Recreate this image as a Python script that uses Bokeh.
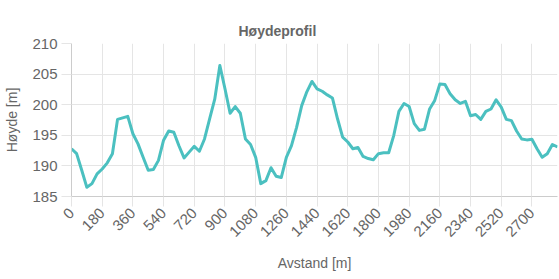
from bokeh.plotting import figure
from bokeh.models import Range1d, FixedTicker, Title
from bokeh.embed import file_html
from bokeh.resources import INLINE

# ---- data ----
distance = [0, 30, 60, 90, 120, 150, 180, 210, 240, 270, 300, 330, 360, 390, 420, 450,
            480, 510, 540, 570, 600, 630, 660, 690, 720, 750, 780, 810, 840, 870, 900, 930,
            960, 990, 1020, 1050, 1080, 1110, 1140, 1170, 1200, 1230, 1260, 1290, 1320, 1350,
            1380, 1410, 1440, 1470, 1500, 1530, 1560, 1590, 1620, 1650, 1680, 1710, 1740, 1770,
            1800, 1830, 1860, 1890, 1920, 1950, 1980, 2010, 2040, 2070, 2100, 2130, 2160, 2190,
            2220, 2250, 2280, 2310, 2340, 2370, 2400, 2430, 2460, 2490, 2520, 2550, 2580, 2610,
            2640, 2670, 2700, 2730, 2760, 2790, 2820, 2850]
elevation = [192.8, 192.0, 189.3, 186.5, 187.1, 188.7, 189.5, 190.5, 192.0, 197.6, 197.85, 198.1,
             195.25, 193.6, 191.4, 189.3, 189.4, 190.9, 194.2, 195.7, 195.5, 193.3, 191.3, 192.25,
             193.2, 192.4, 194.4, 197.7, 200.9, 206.4, 202.6, 198.6, 199.7, 198.6, 194.4, 193.5,
             191.4, 187.1, 187.6, 189.7, 188.3, 188.1, 191.4, 193.3, 196.3, 199.85, 202.1, 203.8,
             202.6, 202.2, 201.6, 201.1, 197.7, 194.7, 193.9, 192.8, 193.0, 191.55, 191.2, 191.0,
             192.0, 192.15, 192.15, 195.0, 198.9, 200.2, 199.7, 196.9, 195.8, 196.0, 199.3, 200.7,
             203.4, 203.3, 201.8, 200.8, 200.2, 200.55, 198.2, 198.4, 197.6, 198.9, 199.3, 200.8,
             199.6, 197.6, 197.4, 195.7, 194.4, 194.25, 194.35, 192.8, 191.4, 192.0, 193.5, 193.1]
x_ticks = [0, 180, 360, 540, 720, 900, 1080, 1260, 1440, 1620, 1800, 1980, 2160, 2340, 2520, 2700]
y_ticks = [185, 190, 195, 200, 205, 210]

title_text = "Høydeprofil"
x_title = "Avstand [m]"
y_title = "Høyde [m]"

TEXT = "#666666"
GRID = "#e5e5e5"
FONT = "Liberation Sans"

p = figure(width=559, height=279, output_backend="svg", toolbar_location=None,
           x_range=Range1d(distance[0], distance[-1]), y_range=Range1d(185, 210),
           min_border_left=71, min_border_right=2, min_border_top=43, min_border_bottom=83)
p.title = Title(text=title_text, align="left", offset=167, text_font=FONT,
                text_font_size="14px", text_font_style="bold", text_color=TEXT)
p.outline_line_color = None
p.background_fill_color = "white"
p.border_fill_color = "white"

p.line(distance, elevation, line_color="#4bc0c0", line_width=3, line_join="round")

for ax in (p.xaxis[0], p.yaxis[0]):
    ax.major_label_text_font = FONT
    ax.major_label_text_font_size = "15px"
    ax.major_label_text_color = TEXT
    ax.axis_label_text_font = FONT
    ax.axis_label_text_font_size = "14px"
    ax.axis_label_text_font_style = "normal"
    ax.axis_label_text_color = TEXT
    ax.axis_line_color = "#cccccc"
    ax.major_tick_line_color = GRID
    ax.major_tick_out = 10
    ax.major_tick_in = 0
    ax.minor_tick_line_color = None
    ax.major_label_standoff = 4

p.xaxis.ticker = FixedTicker(ticks=x_ticks)
p.yaxis.ticker = FixedTicker(ticks=y_ticks)
p.xaxis.axis_label = x_title
p.yaxis.axis_label = y_title
p.xaxis.major_label_orientation = 0.785398
p.yaxis.axis_label_standoff = 9
p.xaxis.axis_label_standoff = 11

p.xgrid.ticker = FixedTicker(ticks=x_ticks)
p.ygrid.ticker = FixedTicker(ticks=y_ticks)
p.grid.grid_line_color = GRID
p.grid.grid_line_width = 1

open("out.html", "w").write(file_html(p, INLINE))
